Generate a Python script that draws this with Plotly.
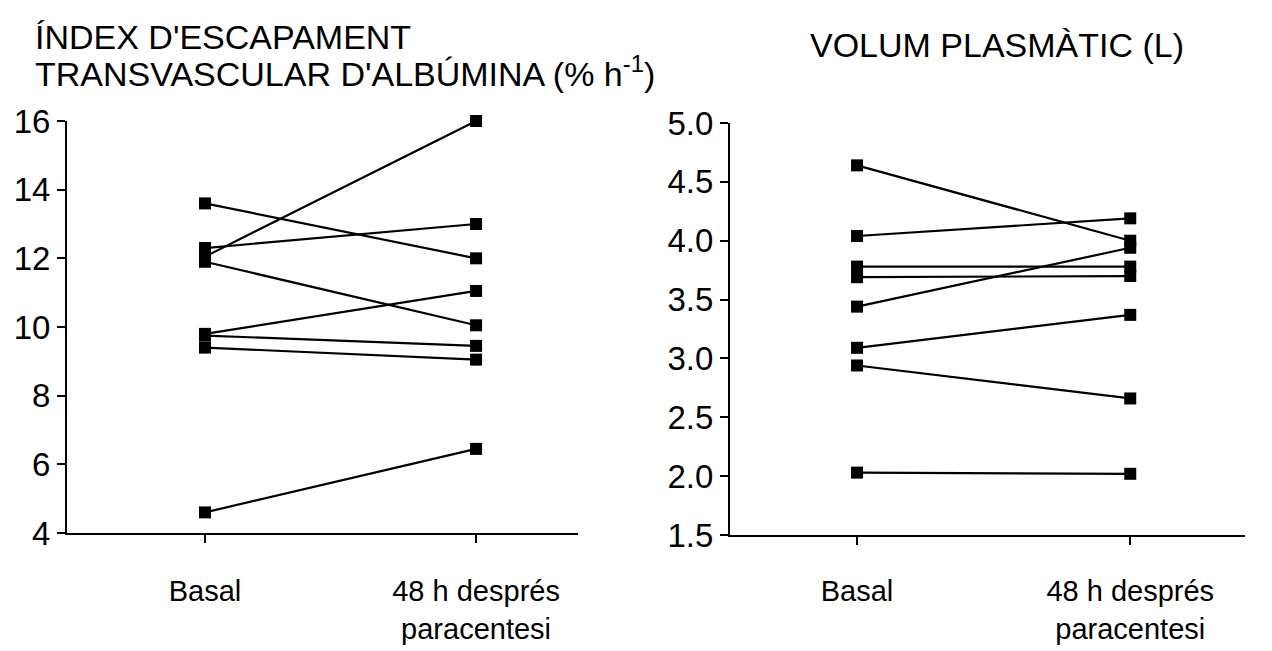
import plotly.graph_objects as go

categories = ["Basal", "48 h després<br>paracentesi"]
cat_pos = [0, 1]

# Left panel: albumin transvascular escape rate (% h-1), one pair per patient [basal, 48h]
albumin_basal = [13.6, 12.3, 12.05, 11.9, 9.8, 9.75, 9.4, 4.6]
albumin_post = [12.0, 13.0, 16.0, 10.05, 11.05, 9.45, 9.05, 6.45]

# Right panel: plasma volume (L)
volume_basal = [4.64, 4.04, 3.78, 3.69, 3.44, 3.09, 2.94, 2.03]
volume_post = [4.0, 4.19, 3.78, 3.70, 3.94, 3.37, 2.66, 2.02]

left_ticks = [4, 6, 8, 10, 12, 14, 16]
right_ticks = [1.5, 2.0, 2.5, 3.0, 3.5, 4.0, 4.5, 5.0]
right_ticktext = ["1.5", "2.0", "2.5", "3.0", "3.5", "4.0", "4.5", "5.0"]

FONT = "Liberation Sans, Arial, Helvetica, sans-serif"

fig = go.Figure()

line_style = dict(color="black", width=2.2)
marker_style = dict(symbol="square", size=12, color="black")

for b, p in zip(albumin_basal, albumin_post):
    fig.add_trace(go.Scatter(x=cat_pos, y=[b, p], mode="lines+markers",
                             line=line_style, marker=marker_style,
                             xaxis="x", yaxis="y", showlegend=False,
                             cliponaxis=False))

for b, p in zip(volume_basal, volume_post):
    fig.add_trace(go.Scatter(x=cat_pos, y=[b, p], mode="lines+markers",
                             line=line_style, marker=marker_style,
                             xaxis="x2", yaxis="y2", showlegend=False,
                             cliponaxis=False))

W, H = 1272, 651

axis_common = dict(
    showgrid=False, zeroline=False, showline=True, linecolor="black", linewidth=2,
    ticks="outside", ticklen=8, tickwidth=1.5, tickcolor="black", automargin=False,
)
ytick_font = dict(family=FONT, size=33, color="black")
xtick_font = dict(family=FONT, size=29, color="black")

fig.update_layout(
    width=W, height=H,
    margin=dict(l=0, r=0, t=0, b=0, autoexpand=False),
    paper_bgcolor="white", plot_bgcolor="white",
    xaxis=dict(domain=[67 / W, 578 / W], range=[-0.509, 1.376],
               tickvals=cat_pos, ticktext=categories, anchor="y",
               tickfont=xtick_font, ticklabelstandoff=23, **axis_common),
    yaxis=dict(domain=[1 - 533 / H, 1 - 121 / H], range=[4, 16],
               tickvals=left_ticks, anchor="x", tickfont=ytick_font, **axis_common),
    xaxis2=dict(domain=[730 / W, 1245 / W], range=[-0.465, 1.42],
                tickvals=cat_pos, ticktext=categories, anchor="y2",
                tickfont=xtick_font, ticklabelstandoff=21, **axis_common),
    yaxis2=dict(domain=[1 - 535 / H, 1 - 123 / H], range=[1.5, 5.0],
                tickvals=right_ticks, ticktext=right_ticktext, anchor="x2",
                tickfont=ytick_font, **axis_common),
    annotations=[
        dict(text="ÍNDEX D'ESCAPAMENT",
             xref="paper", yref="paper", x=33 / W, y=1 - 37 / H,
             xanchor="left", yanchor="middle", align="left", showarrow=False,
             font=dict(family=FONT, size=34, color="black")),
        dict(text="TRANSVASCULAR D'ALBÚMINA (% h<sup>-1</sup>)",
             xref="paper", yref="paper", x=33 / W, y=1 - 71 / H,
             xanchor="left", yanchor="middle", align="left", showarrow=False,
             font=dict(family=FONT, size=34, color="black")),
        dict(text="VOLUM PLASMÀTIC (L)",
             xref="paper", yref="paper", x=808 / W, y=1 - 45 / H,
             xanchor="left", yanchor="middle", align="left", showarrow=False,
             font=dict(family=FONT, size=34, color="black")),
    ],
)

fig.write_html("out.html")
